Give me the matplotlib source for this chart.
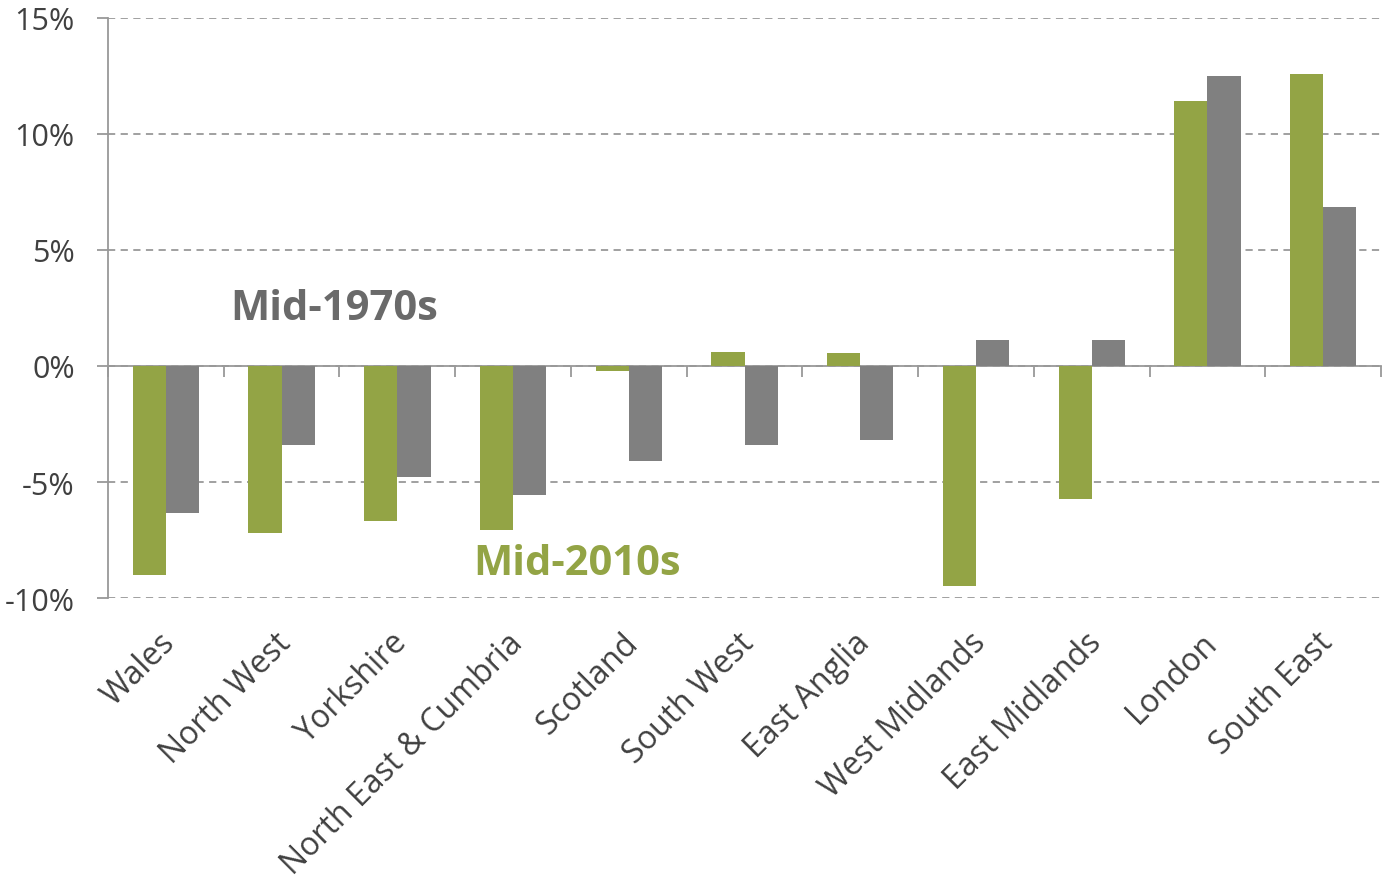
"""
    Regional bar chart, mid-1970s vs mid-2010s
"""
import matplotlib.pyplot as plt
import matplotlib.transforms as mtransforms
import numpy as np

plt.rcParams['font.family'] = ['Open Sans', 'DejaVu Sans']

# data
regions = ["Wales", "North West", "Yorkshire", "North East & Cumbria", "Scotland",
           "South West", "East Anglia", "West Midlands", "East Midlands", "London", "South East"]
mid_2010s = [-9.0, -7.2, -6.7, -7.05, -0.2, 0.6, 0.55, -9.5, -5.75, 11.4, 12.6]
mid_1970s = [-6.35, -3.4, -4.8, -5.55, -4.1, -3.4, -3.2, 1.1, 1.1, 12.5, 6.85]
y_ticks = [-10, -5, 0, 5, 10, 15]

green = '#93a445'
grey = '#808080'
line_col = '#999999'

fig = plt.figure(figsize=(13.83, 8.79), dpi=100)
ax = fig.add_axes([0.0781, 0.3185, 0.9205, 0.66])

x = np.arange(len(regions))
w = 0.287
ax.bar(x - w / 2, mid_2010s, width=w, color=green, zorder=2)
ax.bar(x + w / 2, mid_1970s, width=w, color=grey, zorder=2)

ax.set_xlim(-0.5, len(regions) - 0.5)
ax.set_ylim(-10, 15)
ax.set_yticks(y_ticks)
ax.set_yticklabels([f"{t}%" for t in y_ticks])
ax.yaxis.grid(True, color=line_col, linestyle=(0, (4, 3)), linewidth=1.3, zorder=0)

for s in ['top', 'right', 'bottom']:
    ax.spines[s].set_visible(False)
ax.spines['left'].set_color(line_col)
ax.spines['left'].set_linewidth(1.3)

ax.tick_params(axis='y', length=8, color=line_col, width=1.3, labelsize=22,
               labelcolor='#404040', pad=16)
ax.set_xticks(x)
ax.set_xticklabels(regions, rotation=45, ha='right', rotation_mode='anchor')
ax.tick_params(axis='x', length=0, labelsize=23, labelcolor='#404040', pad=20)
shift = mtransforms.ScaledTranslation(-7 / 100, 0, fig.dpi_scale_trans)
for lbl in ax.get_xticklabels():
    lbl.set_transform(lbl.get_transform() + shift)

# zero axis with ticks between categories
sec = ax.secondary_xaxis(0.4)
sec.set_xticks(np.arange(len(regions) + 1) - 0.5)
sec.tick_params(axis='x', length=8, width=1.3, color=line_col, labelbottom=False)
sec.spines['bottom'].set_color(line_col)
sec.spines['bottom'].set_linewidth(1.3)

# series labels
ax.text(0.554, 2.03, "Mid-1970s", fontsize=30, fontweight='bold', color='#6a6a6a')
ax.text(2.654, -8.97, "Mid-2010s", fontsize=30, fontweight='bold', color=green)

plt.savefig("out.png")
